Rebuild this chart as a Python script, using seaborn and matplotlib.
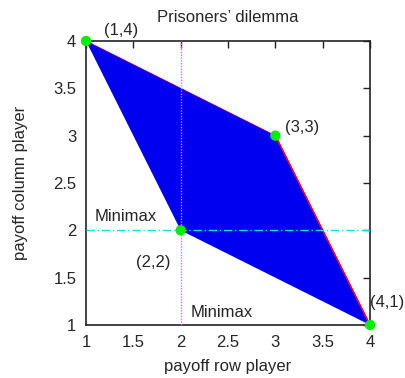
import matplotlib
matplotlib.use("Agg")
import matplotlib.pyplot as plt
import seaborn as sns
import pandas as pd

# Data
region_x = [1, 3, 4, 2]          # payoff polygon vertices (row player)
region_y = [4, 3, 1, 2]          # payoff polygon vertices (column player)
pareto_x = [1, 3, 4]
pareto_y = [4, 3, 1]
outcome_x = [1, 3, 4, 2]
outcome_y = [4, 3, 1, 2]
outcome_labels = ["(1,4)", "(3,3)", "(4,1)", "(2,2)"]
minimax_row = 2
minimax_col = 2
x_ticks = [1, 1.5, 2, 2.5, 3, 3.5, 4]
y_ticks = [1, 1.5, 2, 2.5, 3, 3.5, 4]

sns.set_style("white")
plt.rcParams['font.family'] = ['Liberation Sans', 'DejaVu Sans']
FS = 12

fig = plt.figure(figsize=(4.05, 3.78), dpi=100)
ax = fig.add_axes([86/405, 1-325/378, 284/405, 284/378])

pareto_df = pd.DataFrame({"x": pareto_x, "y": pareto_y})
ax.fill(region_x, region_y, color="#0000f0", zorder=2, lw=0)
sns.lineplot(data=pareto_df, x="x", y="y", sort=False, color="red", lw=0.7, ax=ax, zorder=1.5)
ax.plot(pareto_x[1:], pareto_y[1:], color="red", lw=1.2, zorder=3)

ax.axhline(minimax_col, color="#00e5ee", lw=1, ls=(0, (6, 2, 1, 2)), zorder=4)
ax.axvline(minimax_row, color="#ff66ff", lw=1, ls=(0, (1, 1)), zorder=4)

out_df = pd.DataFrame({"x": outcome_x, "y": outcome_y})
sns.scatterplot(data=out_df, x="x", y="y", color="#00ee00", s=55, edgecolor="none",
                ax=ax, zorder=6, clip_on=False)

label_pos = {"(1,4)": (1.19, 4.115), "(3,3)": (3.1, 3.09), "(4,1)": (4.0, 1.24), "(2,2)": (1.71, 1.66)}
label_ha = {"(1,4)": "left", "(3,3)": "left", "(4,1)": "left", "(2,2)": "center"}
for lab in outcome_labels:
    px, py = label_pos[lab]
    ax.text(px, py, lab, fontsize=FS, va="center", ha=label_ha[lab], zorder=7, clip_on=False)
ax.text(1.09, 2.15, "Minimax", fontsize=FS, va="center", ha="left", zorder=7)
ax.text(2.1, 1.13, "Minimax", fontsize=FS, va="center", ha="left", zorder=7)

ax.set_xlim(1, 4)
ax.set_ylim(1, 4)
ax.set_xticks(x_ticks)
ax.set_yticks(y_ticks)
ax.set_xticklabels([f"{t:g}" for t in x_ticks])
ax.set_yticklabels([f"{t:g}" for t in y_ticks])
ax.tick_params(direction="in", length=5, width=1, top=True, right=True,
               labelsize=FS, pad=7, color="#222222")
for s in ax.spines.values():
    s.set_color("#222222")
    s.set_linewidth(1.2)
ax.set_xlabel("payoff row player", fontsize=FS, labelpad=7)
ax.set_ylabel("payoff column player", fontsize=FS, labelpad=18)
ax.set_title("Prisoners\u2019 dilemma", fontsize=FS, pad=13.5)

fig.savefig("out.png", dpi=100)
